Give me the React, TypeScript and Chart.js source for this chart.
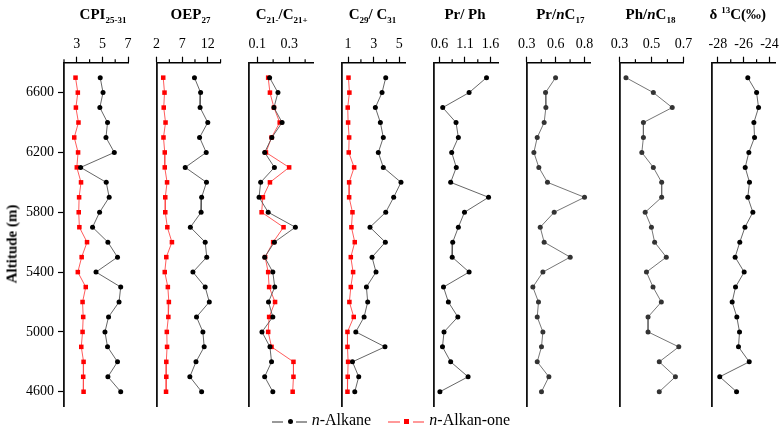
import React, { useEffect, useRef } from "react";
import { Chart, registerables } from "chart.js";

Chart.register(...registerables);
Chart.defaults.font.family = "'Liberation Serif', 'Times New Roman', serif";
Chart.defaults.color = "#000";

// ---------------- data (top of section to bottom) ----------------
const altitude = [6700, 6600, 6500, 6400, 6300, 6200, 6100, 6000, 5900, 5800, 5700, 5600, 5500, 5400, 5300, 5200, 5100, 5000, 4900, 4800, 4700, 4600];
const altitudeTicks = [4600, 5000, 5400, 5800, 6200, 6600];

const cpiAlkane = [4.83, 5.05, 4.8, 5.4, 5.28, 5.93, 3.3, 5.3, 5.53, 4.78, 4.23, 5.43, 6.18, 4.5, 6.43, 6.3, 5.48, 5.2, 5.4, 6.18, 5.43, 6.43];
const cpiAlkanone = [2.9, 3.08, 2.93, 3.13, 2.8, 3.1, 3.0, 3.33, 3.18, 3.15, 3.2, 3.8, 3.38, 3.08, 3.7, 3.45, 3.5, 3.45, 3.35, 3.53, 3.5, 3.53];

const oepAlkane = [9.4, 10.6, 10.5, 12.0, 10.4, 11.7, 7.6, 11.75, 10.8, 10.7, 8.6, 11.5, 11.8, 9.1, 11.5, 12.3, 9.8, 11.05, 11.3, 9.7, 8.5, 10.8];
const oepAlkanone = [3.3, 3.55, 3.4, 3.75, 3.35, 3.6, 3.6, 4.05, 3.7, 3.7, 4.1, 5.0, 3.9, 3.6, 4.2, 4.4, 4.3, 4.0, 4.05, 3.9, 3.9, 3.85];

const c21Alkane = [0.178, 0.23, 0.205, 0.256, 0.192, 0.147, 0.208, 0.122, 0.112, 0.169, 0.339, 0.208, 0.147, 0.198, 0.21, 0.171, 0.198, 0.13, 0.18, 0.19, 0.147, 0.198];
const c21Alkanone = [0.169, 0.18, 0.205, 0.241, 0.19, 0.155, 0.3, 0.18, 0.136, 0.128, 0.265, 0.2, 0.15, 0.169, 0.175, 0.212, 0.175, 0.169, 0.19, 0.327, 0.327, 0.322];

const c29Alkane = [3.94, 3.65, 3.13, 3.52, 3.75, 3.36, 3.75, 5.13, 4.56, 3.94, 2.71, 3.91, 2.87, 3.18, 2.43, 2.53, 2.25, 1.6, 3.88, 1.34, 1.83, 1.52];
const c29Alkanone = [1.03, 1.1, 0.97, 1.0, 1.08, 1.05, 1.47, 1.08, 1.08, 1.34, 1.26, 1.52, 1.21, 1.39, 1.21, 1.1, 1.44, 0.95, 0.95, 1.0, 0.97, 0.95];

const prPh = [1.52, 1.18, 0.665, 0.925, 0.97, 0.84, 0.93, 0.82, 1.56, 1.09, 0.97, 0.86, 0.85, 1.18, 0.68, 0.775, 0.96, 0.69, 0.66, 0.82, 1.16, 0.61];
const prC17 = [0.549, 0.462, 0.465, 0.45, 0.39, 0.361, 0.404, 0.479, 0.8, 0.537, 0.416, 0.45, 0.676, 0.439, 0.352, 0.401, 0.39, 0.439, 0.427, 0.39, 0.491, 0.427];
const phC18 = [0.341, 0.512, 0.63, 0.45, 0.45, 0.44, 0.512, 0.564, 0.564, 0.461, 0.5, 0.52, 0.593, 0.469, 0.51, 0.562, 0.479, 0.479, 0.671, 0.549, 0.65, 0.549];
const d13C = [-25.68, -25.0, -24.85, -25.21, -25.16, -25.6, -25.88, -25.55, -25.68, -25.29, -25.9, -26.3, -26.66, -25.96, -26.63, -26.89, -26.53, -26.32, -26.4, -25.57, -27.85, -26.55];

// axis ticks per panel
const cpiTicks = [3, 5, 7];
const cpiMinor = [2, 4, 6];
const oepTicks = [2, 7, 12];
const oepMinor = [4.5, 9.5, 14.5];
const c21Ticks = [0.1, 0.3];
const c21Minor = [0.2, 0.4];
const c29Ticks = [1, 3, 5];
const c29Minor = [2, 4];
const prPhTicks = [0.6, 1.1, 1.6];
const prPhMinor = [0.85, 1.35];
const prC17Ticks = [0.3, 0.55, 0.8];
const prC17Labels = ["0.3", "0.6", "0.8"];
const prC17Minor = [0.425, 0.675];
const phC18Ticks = [0.3, 0.5, 0.7];
const phC18Minor = [0.4, 0.6];
const d13CTicks = [-28, -26, -24];
const d13CMinor = [-27, -25];

type PanelDef = {
  alkane: number[];
  alkanone?: number[];
  min: number;
  max: number;
  ticks: number[];
  labels: string[];
  minor: number[];
  dot: string;
  line: string;
};

const panels: PanelDef[] = [
  { alkane: cpiAlkane, alkanone: cpiAlkanone, min: 2, max: 7, ticks: cpiTicks, labels: cpiTicks.map(String), minor: cpiMinor, dot: "#000", line: "#555" },
  { alkane: oepAlkane, alkanone: oepAlkanone, min: 2, max: 14.5, ticks: oepTicks, labels: oepTicks.map(String), minor: oepMinor, dot: "#000", line: "#555" },
  { alkane: c21Alkane, alkanone: c21Alkanone, min: 0.05, max: 0.45, ticks: c21Ticks, labels: c21Ticks.map(String), minor: c21Minor, dot: "#000", line: "#555" },
  { alkane: c29Alkane, alkanone: c29Alkanone, min: 0.5, max: 5.5, ticks: c29Ticks, labels: c29Ticks.map(String), minor: c29Minor, dot: "#000", line: "#555" },
  { alkane: prPh, min: 0.5, max: 1.75, ticks: prPhTicks, labels: prPhTicks.map(String), minor: prPhMinor, dot: "#000", line: "#555" },
  { alkane: prC17, min: 0.3, max: 0.855, ticks: prC17Ticks, labels: prC17Labels, minor: prC17Minor, dot: "#333", line: "#666" },
  { alkane: phC18, min: 0.3, max: 0.7, ticks: phC18Ticks, labels: phC18Ticks.map(String), minor: phC18Minor, dot: "#333", line: "#666" },
  { alkane: d13C, min: -28.45, max: -23.5, ticks: d13CTicks, labels: d13CTicks.map(String), minor: d13CMinor, dot: "#000", line: "#555" },
];

// ---------------- layout ----------------
const W_PAGE = 782;
const H_PAGE = 429;
const PANEL_LEFT0 = 64;
const PANEL_STEP = 92.57;
const PANEL_W = 64;
const PLOT_TOP = 62.7;
const PLOT_BOTTOM = 406.7;
const FONT = "'Liberation Serif', 'Times New Roman', serif";

const minorTickPlugin = {
  id: "minorTicks",
  afterDraw(chart: any, _args: any, opts: any) {
    const s = chart.scales.x;
    const ctx = chart.ctx;
    ctx.save();
    ctx.strokeStyle = "#000";
    ctx.lineWidth = 1.2;
    for (const v of opts.values || []) {
      const px = s.getPixelForValue(v);
      ctx.beginPath();
      ctx.moveTo(px, s.bottom);
      ctx.lineTo(px, s.bottom - 3.5);
      ctx.stroke();
    }
    ctx.restore();
  },
};

function Panel({ def, index }: { def: PanelDef; index: number }) {
  const ref = useRef<HTMLCanvasElement | null>(null);
  const left = PANEL_LEFT0 + index * PANEL_STEP;
  const canvasLeft = index === 0 ? 0 : Math.floor(left) - 12;
  const lpad = left - canvasLeft;
  const rightEdge = left + PANEL_W;
  const width = index === panels.length - 1 ? W_PAGE - canvasLeft : Math.ceil(lpad + PANEL_W + 16);
  const rpad = width - lpad - PANEL_W;

  useEffect(() => {
    if (!ref.current) return;
    const datasets: any[] = [
      {
        label: "n-Alkane",
        data: def.alkane.map((v, i) => ({ x: v, y: altitude[i] })),
        showLine: true,
        borderColor: def.line,
        borderWidth: 0.9,
        pointStyle: "circle",
        pointRadius: 2.5,
        pointBackgroundColor: def.dot,
        pointBorderColor: def.dot,
        pointBorderWidth: 0,
      },
    ];
    if (def.alkanone) {
      datasets.push({
        label: "n-Alkan-one",
        data: def.alkanone.map((v, i) => ({ x: v, y: altitude[i] })),
        showLine: true,
        borderColor: "#ff4a4a",
        borderWidth: 0.9,
        pointStyle: "rect",
        pointRadius: 3.2,
        pointBackgroundColor: "#f00",
        pointBorderColor: "#f00",
        pointBorderWidth: 0,
      });
    }
    const first = index === 0;
    const chart = new Chart(ref.current, {
      type: "scatter",
      data: { datasets },
      options: {
        animation: false,
        responsive: false,
        events: [],
        clip: false as any,
        layout: { padding: { left: 0, top: 0, right: rpad, bottom: H_PAGE - PLOT_BOTTOM } },
        plugins: {
          legend: { display: false },
          tooltip: { enabled: false },
          minorTicks: { values: def.minor },
        } as any,
        scales: {
          x: {
            type: "linear",
            position: "top",
            min: def.min,
            max: def.max,
            afterBuildTicks: (s: any) => {
              s.ticks = def.ticks.map((v) => ({ value: v }));
            },
            afterFit: (s: any) => {
              s.height = PLOT_TOP;
              s.paddingLeft = 0;
              s.paddingRight = 0;
            },
            ticks: {
              callback: (_v: any, i: number) => def.labels[i],
              font: { size: 14, family: FONT },
              color: "#000",
              padding: 4,
              maxRotation: 0,
              autoSkip: false,
            },
            grid: { display: true, drawOnChartArea: false, drawTicks: true, tickLength: 6, color: "#000", tickWidth: 1.2 },
            border: { display: true, color: "#000", width: 1.4 },
          },
          y: {
            type: "linear",
            position: "left",
            min: 4500,
            max: 6800,
            afterBuildTicks: (s: any) => {
              s.ticks = altitudeTicks.map((v) => ({ value: v }));
            },
            afterFit: (s: any) => {
              s.width = lpad;
              s.paddingTop = 0;
              s.paddingBottom = 0;
            },
            ticks: {
              display: first,
              callback: (v: any) => String(v),
              font: { size: 14, family: FONT },
              color: "#000",
              padding: 4,
              autoSkip: false,
            },
            grid: { display: first, drawOnChartArea: false, drawTicks: true, tickLength: 6, color: "#000", tickWidth: 1.2 },
            border: { display: true, color: "#111", width: 1.8 },
          },
        },
      } as any,
      plugins: [minorTickPlugin],
    });
    return () => chart.destroy();
  }, [def, index, lpad, rpad]);

  return (
    <canvas
      ref={ref}
      width={width}
      height={H_PAGE}
      style={{ position: "absolute", left: canvasLeft, top: 0, width, height: H_PAGE }}
    />
  );
}

const sub = (t: string) => (
  <span style={{ fontSize: 9, position: "relative", top: 4 }}>{t}</span>
);
const sup = (t: string) => (
  <span style={{ fontSize: 9, position: "relative", top: -6 }}>{t}</span>
);

const titles: { cx: number; node: React.ReactNode }[] = [
  { cx: 103, node: <>CPI{sub("25-31")}</> },
  { cx: 190.5, node: <>OEP{sub("27")}</> },
  { cx: 281.7, node: <>C{sub("21-")}/C{sub("21+")}</> },
  { cx: 372.5, node: <>C{sub("29")}/ C{sub("31")}</> },
  { cx: 465, node: <>Pr/ Ph</> },
  { cx: 560.3, node: <>Pr/<i>n</i>C{sub("17")}</> },
  { cx: 650.5, node: <>Ph/<i>n</i>C{sub("18")}</> },
  { cx: 737.8, node: <>δ {sup("13")}C(‰)</> },
];

export default function App() {
  return (
    <div
      style={{
        position: "fixed",
        left: 0,
        top: 0,
        width: W_PAGE,
        height: H_PAGE,
        background: "#fff",
        overflow: "hidden",
        fontFamily: FONT,
        color: "#000",
      }}
    >
      {panels.map((p, i) => (
        <Panel key={i} def={p} index={i} />
      ))}
      {titles.map((t, i) => (
        <div
          key={i}
          style={{
            position: "absolute",
            left: t.cx - 60,
            top: 7,
            width: 120,
            textAlign: "center",
            fontWeight: "bold",
            fontSize: 15,
            lineHeight: "15px",
            whiteSpace: "nowrap",
          }}
        >
          {t.node}
        </div>
      ))}
      <div
        style={{
          position: "absolute",
          left: 12,
          top: 243.5,
          transform: "translate(-50%, -50%) rotate(-90deg)",
          fontWeight: "bold",
          fontSize: 15,
          whiteSpace: "nowrap",
          lineHeight: "15px",
        }}
      >
        Altitude (m)
      </div>
      {/* legend */}
      <div style={{ position: "absolute", left: 271.7, top: 420.7, width: 11.6, height: 2, background: "#999" }} />
      <div style={{ position: "absolute", left: 287.5, top: 419.2, width: 5, height: 5, borderRadius: "50%", background: "#000" }} />
      <div style={{ position: "absolute", left: 296, top: 420.7, width: 11.3, height: 2, background: "#999" }} />
      <div style={{ position: "absolute", left: 311.7, top: 412, fontSize: 16, lineHeight: "16px", whiteSpace: "nowrap" }}>
        <i>n</i>-Alkane
      </div>
      <div style={{ position: "absolute", left: 388.3, top: 420.7, width: 11.7, height: 2, background: "#f99" }} />
      <div style={{ position: "absolute", left: 404.4, top: 419.4, width: 4.6, height: 4.6, background: "#f00" }} />
      <div style={{ position: "absolute", left: 413.3, top: 420.7, width: 10.7, height: 2, background: "#f99" }} />
      <div style={{ position: "absolute", left: 429.3, top: 412, fontSize: 16, lineHeight: "16px", whiteSpace: "nowrap" }}>
        <i>n</i>-Alkan-one
      </div>
    </div>
  );
}
